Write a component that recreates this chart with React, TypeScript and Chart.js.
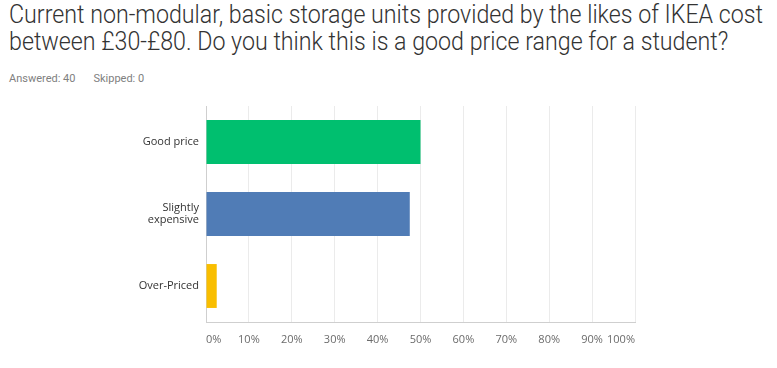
import React, { useEffect, useRef } from "react";
import { Chart, registerables } from "chart.js";

Chart.register(...registerables);

const titleLines = [
  "Current non-modular, basic storage units provided by the likes of IKEA cost",
  "between £30-£80. Do you think this is a good price range for a student?",
];
const answeredText = "Answered: 40";
const skippedText = "Skipped: 0";

const categories: (string | string[])[] = ["Good price", ["Slightly", "expensive"], "Over-Priced"];
const values = [50, 47.5, 2.5];
const barColors = ["#00bf6f", "#507cb6", "#f9be00"];
const xTicks = [0, 10, 20, 30, 40, 50, 60, 70, 80, 90, 100];

const TITLE_FONT = "300 25px Roboto";
const TITLE_TARGET_WIDTH = 754;

export default function App() {
  const canvasRef = useRef<HTMLCanvasElement | null>(null);
  const titleRef = useRef<HTMLDivElement | null>(null);

  useEffect(() => {
    // condense the title to match the narrow font of the original
    const m = document.createElement("canvas").getContext("2d")!;
    m.font = TITLE_FONT;
    const w = m.measureText(titleLines[0]).width;
    if (titleRef.current && w > 0) {
      titleRef.current.style.transform = `scaleX(${TITLE_TARGET_WIDTH / w})`;
    }

    const chart = new Chart(canvasRef.current!, {
      type: "bar",
      data: {
        labels: categories,
        datasets: [
          {
            data: values,
            backgroundColor: barColors,
            borderWidth: 0,
            barPercentage: 0.61,
            categoryPercentage: 1,
          },
        ],
      },
      options: {
        indexAxis: "y",
        responsive: false,
        animation: false,
        layout: { padding: { top: 16, right: 142, left: 0, bottom: 0 } },
        plugins: { legend: { display: false }, tooltip: { enabled: false }, title: { display: false } },
        scales: {
          x: {
            min: 0,
            max: 100,
            afterBuildTicks: (scale: any) => {
              scale.ticks = xTicks.map((v) => ({ value: v }));
            },
            afterFit: (scale: any) => {
              scale.height = 46;
            },
            grid: { color: "#ebebeb", drawTicks: false, lineWidth: 1 },
            border: { display: true, color: "#cfcfcf", width: 1 },
            ticks: {
              padding: 11,
              align: "inner",
              color: "#6b6b6b",
              font: { family: "'Open Sans', sans-serif", size: 11 },
              callback: (v: any) => v + "%",
              maxRotation: 0,
              autoSkip: false,
            },
          },
          y: {
            afterFit: (scale: any) => {
              scale.width = 206;
            },
            grid: { display: false, drawTicks: false },
            border: { display: true, color: "#cfcfcf", width: 1 },
            ticks: {
              padding: 7,
              color: "#333333",
              font: { family: "'Open Sans', sans-serif", size: 11, lineHeight: 1.1 },
            },
          },
        },
      },
    });
    return () => chart.destroy();
  }, []);

  return (
    <div style={{ position: "absolute", left: 0, top: 0, width: 777, height: 368, background: "#fff", overflow: "hidden" }}>
      <div
        ref={titleRef}
        style={{
          position: "absolute",
          left: 9,
          top: 1,
          whiteSpace: "nowrap",
          font: TITLE_FONT,
          lineHeight: "27px",
          color: "#333333",
          transformOrigin: "0 0",
        }}
      >
        <div>{titleLines[0]}</div>
        <div>{titleLines[1]}</div>
      </div>
      <div
        style={{
          position: "absolute",
          left: 9,
          top: 72,
          font: "11px Roboto",
          color: "#808080",
          whiteSpace: "nowrap",
        }}
      >
        <span>{answeredText}</span>
        <span style={{ marginLeft: 18 }}>{skippedText}</span>
      </div>
      <canvas ref={canvasRef} width={777} height={278} style={{ position: "absolute", left: 0, top: 90 }} />
    </div>
  );
}
